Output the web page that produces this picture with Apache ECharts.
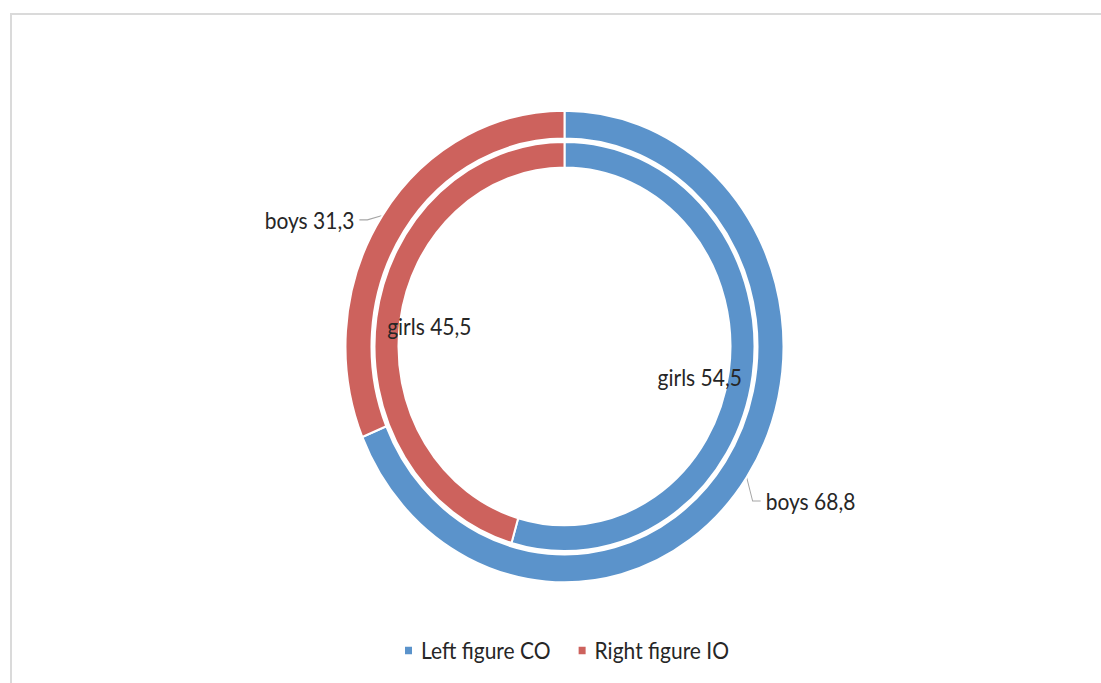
<!DOCTYPE html>
<html>
<head>
<meta charset="utf-8">
<script src="https://cdn.jsdelivr.net/npm/echarts@6/dist/echarts.min.js"></script>
<style>
  html, body { margin: 0; padding: 0; background: #fff; overflow: hidden; }
  #frame { position: absolute; left: 10px; top: 13px; width: 1200px; height: 800px; border: 2px solid #dadada; }
  /* the source picture is stretched a little vertically, so the whole chart is too */
  #main { position: absolute; left: 0; top: 0; width: 1101px; height: 634px; transform: scaleY(1.077); transform-origin: 0 0; }
</style>
</head>
<body>
<div id="frame"></div>
<div id="main"></div>
<script>
const groups = ['Left figure CO', 'Right figure IO'];
const boys = [68.8, 31.3];
const girls = [54.5, 45.5];
const colors = ['#5b93cb', '#cd625d'];

// label nudges (px), boys labels move with the bend of their leader line
const boysLabelShift = [[-9, 12], [0, 14]];
const girlsLabelShift = [[-44, 3], [44, 7]];

const fmt = v => v.toFixed(1).replace('.', ',');
const font = 'Lato, "Open Sans", sans-serif';
const txt = '#262626';

const chart = echarts.init(document.getElementById('main'), null, { renderer: 'svg' });

const option = {
  animation: false,
  color: colors,
  legend: {
    data: groups,
    left: 398,
    top: 588,
    icon: 'rect',
    itemWidth: 9,
    itemHeight: 9,
    itemGap: 26,
    textStyle: { fontFamily: font, fontSize: 21, lineHeight: 22, color: txt, padding: [0, 0, 0, 3] }
  },
  series: [
    {
      name: 'boys',
      type: 'pie',
      center: [564.5, 321.7],
      radius: [193, 219],
      startAngle: 90,
      avoidLabelOverlap: false,
      emphasis: { scale: false },
      itemStyle: { borderColor: '#fff', borderWidth: 2 },
      label: {
        position: 'outside',
        formatter: p => 'boys ' + fmt(p.value),
        fontFamily: font,
        fontSize: 21,
        color: txt
      },
      labelLine: { length: 18, length2: 8, lineStyle: { color: '#a6a6a6', width: 1 } },
      labelLayout: p => {
        const [dx, dy] = boysLabelShift[p.dataIndex];
        const pts = p.labelLinePoints;
        if (!pts) return { dx, dy };
        return {
          dx, dy,
          labelLinePoints: [pts[0], [pts[1][0] + dx, pts[1][1] + dy], [pts[2][0] + dx, pts[2][1] + dy]]
        };
      },
      data: groups.map((g, i) => ({ name: g, value: boys[i] }))
    },
    {
      name: 'girls',
      type: 'pie',
      center: [564.5, 321.7],
      radius: [166, 190],
      startAngle: 90,
      avoidLabelOverlap: false,
      emphasis: { scale: false },
      itemStyle: { borderColor: '#fff', borderWidth: 2 },
      label: {
        position: 'inside',
        formatter: p => 'girls ' + fmt(p.value),
        fontFamily: font,
        fontSize: 21,
        color: txt
      },
      labelLine: { show: false },
      data: groups.map((g, i) => ({
        name: g,
        value: girls[i],
        label: { offset: girlsLabelShift[i] }
      }))
    }
  ]
};

chart.setOption(option);
</script>
</body>
</html>
